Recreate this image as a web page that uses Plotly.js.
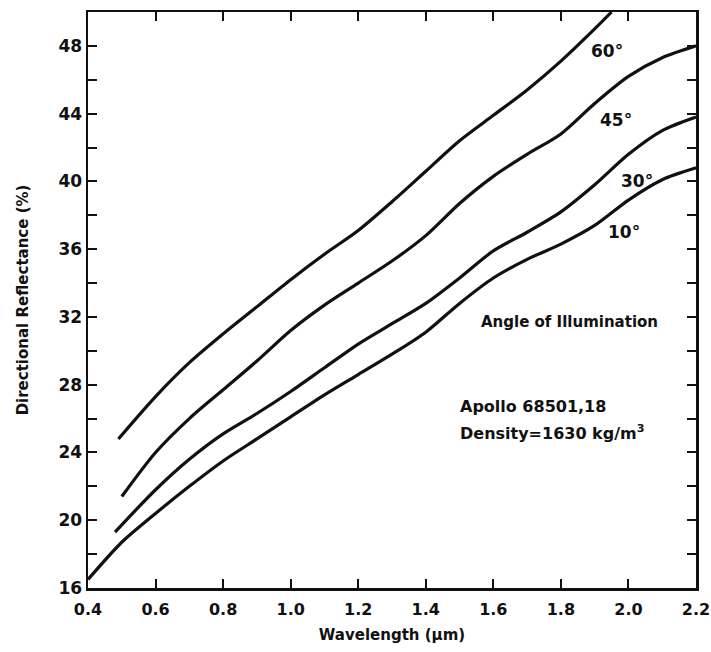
<!DOCTYPE html>
<html><head><meta charset="utf-8">
<script src="https://cdn.plot.ly/plotly-3.0.1.min.js"></script>
<style>html,body{margin:0;padding:0;background:#fff;}#chart{width:711px;height:652px;}</style>
</head><body><div id="chart"></div>
<script>
const x60 = [0.49, 0.6, 0.7, 0.8, 0.9, 1.0, 1.1, 1.2, 1.3, 1.4, 1.5, 1.6, 1.7, 1.8, 1.9, 1.95];
const y60 = [24.8, 27.3, 29.3, 31.0, 32.6, 34.2, 35.7, 37.1, 38.8, 40.6, 42.4, 43.9, 45.4, 47.1, 49.0, 50.0];
const x45 = [0.5, 0.6, 0.7, 0.8, 0.9, 1.0, 1.1, 1.2, 1.3, 1.4, 1.5, 1.6, 1.7, 1.8, 1.9, 2.0, 2.1, 2.2];
const y45 = [21.4, 24.0, 26.0, 27.7, 29.4, 31.2, 32.7, 34.0, 35.3, 36.8, 38.7, 40.3, 41.6, 42.8, 44.6, 46.2, 47.3, 48.0];
const x30 = [0.48, 0.6, 0.7, 0.8, 0.9, 1.0, 1.1, 1.2, 1.3, 1.4, 1.5, 1.6, 1.7, 1.8, 1.9, 2.0, 2.1, 2.2];
const y30 = [19.3, 21.8, 23.6, 25.1, 26.3, 27.6, 29.0, 30.4, 31.6, 32.8, 34.3, 35.9, 37.0, 38.2, 39.8, 41.6, 43.0, 43.8];
const x10 = [0.4, 0.5, 0.6, 0.7, 0.8, 0.9, 1.0, 1.1, 1.2, 1.3, 1.4, 1.5, 1.6, 1.7, 1.8, 1.9, 2.0, 2.1, 2.2];
const y10 = [16.5, 18.7, 20.4, 22.0, 23.5, 24.8, 26.1, 27.4, 28.6, 29.8, 31.1, 32.8, 34.3, 35.4, 36.3, 37.4, 38.9, 40.1, 40.8];
const curveLabels = ["60°", "45°", "30°", "10°"];
const xTicks = [0.4, 0.6, 0.8, 1.0, 1.2, 1.4, 1.6, 1.8, 2.0, 2.2];
const xTickText = ["0.4", "0.6", "0.8", "1.0", "1.2", "1.4", "1.6", "1.8", "2.0", "2.2"];
const yTicks = [16, 20, 24, 28, 32, 36, 40, 44, 48];

const F = "DejaVu Sans, Liberation Sans, sans-serif";
const line = {color: "#111", width: 3.2, shape: "spline", smoothing: 0.8};
const traces = [[x60,y60],[x45,y45],[x30,y30],[x10,y10]].map((d,i)=>({
  x: d[0], y: d[1], type: "scatter", mode: "lines", line: line, name: curveLabels[i], showlegend: false
}));

const ann = (x,y,t,xa,size)=>({x:x,y:y,xref:"x",yref:"y",text:t,showarrow:false,xanchor:xa||"center",
  font:{family:F,size:size||15,color:"#111",weight:"bold"}});

const layout = {
  width: 711, height: 652,
  margin: {l: 88, r: 15, t: 12, b: 64},
  paper_bgcolor: "#fff", plot_bgcolor: "#fff",
  showlegend: false,
  xaxis: {
    range: [0.4, 2.2], tickvals: xTicks, ticktext: xTickText,
    ticks: "inside", ticklen: 9, tickwidth: 2, tickcolor: "#111",
    showline: true, linewidth: 2.5, linecolor: "#111", mirror: "ticks",
    showgrid: false, zeroline: false, ticklabelstandoff: 5, ticklabeloverflow: "allow",
    tickfont: {family: F, size: 16, color: "#111", weight: "bold"},
    title: {text: "Wavelength (μm)", font: {family: F, size: 15, color: "#111", weight: "bold"}, standoff: 12}
  },
  yaxis: {
    range: [16, 50], tickvals: yTicks,
    ticks: "inside", ticklen: 9, tickwidth: 2, tickcolor: "#111",
    minor: {dtick: 2, tick0: 16, ticks: "inside", ticklen: 9, tickwidth: 2, tickcolor: "#111", showgrid: false},
    showline: true, linewidth: 2.5, linecolor: "#111", mirror: "ticks",
    showgrid: false, zeroline: false,
    tickfont: {family: F, size: 17, color: "#111", weight: "bold"},
    title: {text: "Directional Reflectance (%)", font: {family: F, size: 15, color: "#111", weight: "bold"}, standoff: 26}
  },
  annotations: [
    ann(1.937, 47.7, curveLabels[0], "center", 17),
    ann(1.963, 43.6, curveLabels[1], "center", 17),
    ann(2.025, 40.0, curveLabels[2], "center", 17),
    ann(1.987, 37.0, curveLabels[3], "center", 17),
    ann(1.824, 31.7, "Angle of Illumination", "center", 15),
    ann(1.495, 26.7, "Apollo 68501,18", "left", 16),
    ann(1.495, 25.15, "Density=1630 kg/m<sup>3</sup>", "left", 16)
  ]
};
Plotly.newPlot("chart", traces, layout, {displayModeBar: false, staticPlot: true});
</script></body></html>
